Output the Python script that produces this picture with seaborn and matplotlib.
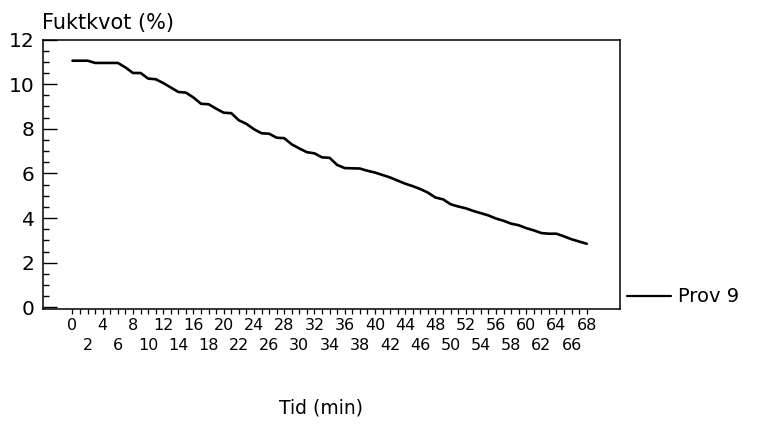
import matplotlib
matplotlib.use("Agg")
import matplotlib.pyplot as plt
from matplotlib.ticker import MultipleLocator, FixedLocator, FixedFormatter
import seaborn as sns
import pandas as pd

# ---- data -------------------------------------------------------------
minutes = list(range(0, 69))
moisture = [
    11.05, 11.05, 11.05, 10.95, 10.95, 10.95, 10.95, 10.75, 10.50, 10.50,
    10.25, 10.22, 10.05, 9.85, 9.65, 9.62, 9.40, 9.12, 9.10, 8.90,
    8.72, 8.70, 8.38, 8.22, 7.98, 7.80, 7.78, 7.60, 7.58, 7.30,
    7.12, 6.95, 6.90, 6.72, 6.70, 6.38, 6.24, 6.23, 6.22, 6.12,
    6.04, 5.93, 5.82, 5.68, 5.54, 5.43, 5.30, 5.14, 4.92, 4.84,
    4.62, 4.52, 4.44, 4.32, 4.22, 4.12, 3.98, 3.88, 3.75, 3.68,
    3.55, 3.45, 3.33, 3.30, 3.30, 3.18, 3.05, 2.95, 2.85,
]
series_name = "Prov 9"
y_label = "Fuktkvot (%)"
x_label = "Tid (min)"
y_ticks = [0, 2, 4, 6, 8, 10, 12]
row1_ticks = [m for m in minutes if m % 4 == 0]          # 0, 4, 8, ...
other_ticks = [m for m in minutes if m % 4 != 0]         # 1, 2, 3, 5, ...
other_labels = [str(m) if m % 4 == 2 else "" for m in other_ticks]

df = pd.DataFrame({"Tid": minutes, "Fuktkvot": moisture})

# ---- style ------------------------------------------------------------
sns.set_style("white")
plt.rcParams["font.family"] = ["DejaVu Sans"]
for k in ["text.color", "axes.labelcolor", "xtick.color", "ytick.color",
          "axes.edgecolor"]:
    plt.rcParams[k] = "black"

W, H = 759, 426
fig = plt.figure(figsize=(W / 100, H / 100), dpi=100)
ax = fig.add_axes([43 / W, 1 - 308.5 / H, (620 - 43) / W, (308.5 - 39.5) / H])

sns.lineplot(data=df, x="Tid", y="Fuktkvot", ax=ax, color="black",
             linewidth=1.9, label=series_name)

ax.set_xlim(-3.9, 72.4)
ax.set_ylim(-0.05, 12.0)

for s in ax.spines.values():
    s.set_color("black")
    s.set_linewidth(1.1)
    s.set_visible(True)

# y ticks: inside, major every 2, minor every 0.5
ax.yaxis.set_major_locator(FixedLocator(y_ticks))
ax.yaxis.set_major_formatter(FixedFormatter([str(v) for v in y_ticks]))
ax.yaxis.set_minor_locator(MultipleLocator(0.5))
ax.tick_params(axis="y", which="major", direction="in", length=10.4,
               width=1.0, labelsize=14.5, pad=6, left=True, right=False,
               colors="black")
ax.tick_params(axis="y", which="minor", direction="in", length=4.3,
               width=1.0, left=True, right=False, colors="black")

# x ticks: every minute; labels every 2 in two staggered rows
ax.xaxis.set_major_locator(FixedLocator(row1_ticks))
ax.xaxis.set_major_formatter(FixedFormatter([str(m) for m in row1_ticks]))
ax.xaxis.set_minor_locator(FixedLocator(other_ticks))
ax.xaxis.set_minor_formatter(FixedFormatter(other_labels))
ax.tick_params(axis="x", which="major", direction="out", length=3.6,
               width=0.9, labelsize=11.5, pad=3.5, bottom=True, top=False,
               colors="black")
ax.tick_params(axis="x", which="minor", direction="out", length=3.6,
               width=0.9, labelsize=11.5, pad=17.5, bottom=True, top=False,
               colors="black")
ax.set_xlabel("")
ax.set_ylabel("")

# legend
leg = ax.legend(loc="center left", bbox_to_anchor=(627 / W, 1 - 297 / H),
                bbox_transform=fig.transFigure, frameon=False,
                borderpad=0, borderaxespad=0, handlelength=2.25,
                handletextpad=0.35, fontsize=14)
for line in leg.get_lines():
    line.set_linewidth(1.6)
for t in leg.get_texts():
    t.set_color("black")

fig.text(42 / W, 1 - 23 / H, y_label, ha="left", va="center", fontsize=15,
         color="black")
fig.text(321 / W, 1 - 408 / H, x_label, ha="center", va="center",
         fontsize=13.5, color="black")

fig.savefig("out.png", dpi=100, facecolor="white")
